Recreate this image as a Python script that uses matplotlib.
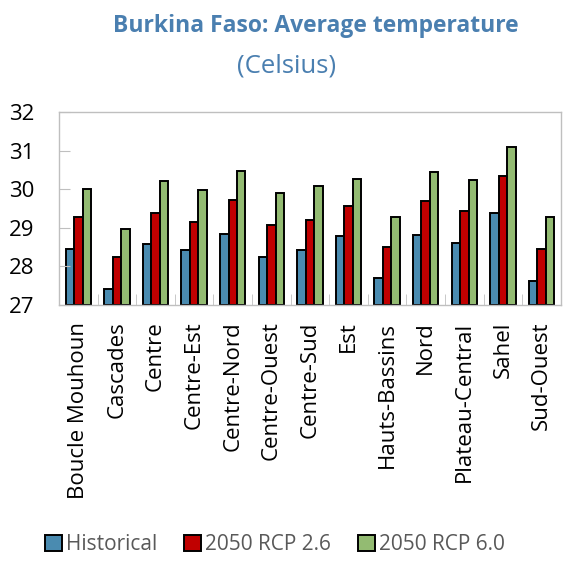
import numpy as np
import matplotlib
matplotlib.use('Agg')
import matplotlib.pyplot as plt
from matplotlib.patches import Patch

plt.rcParams['font.family'] = ['Open Sans', 'DejaVu Sans']

regions = ['Boucle Mouhoun', 'Cascades', 'Centre', 'Centre-Est', 'Centre-Nord',
           'Centre-Ouest', 'Centre-Sud', 'Est', 'Hauts-Bassins', 'Nord',
           'Plateau-Central', 'Sahel', 'Sud-Ouest']
historical = [28.44, 27.41, 28.57, 28.42, 28.84, 28.24, 28.41, 28.79, 27.70, 28.81, 28.61, 29.37, 27.62]
rcp26 = [29.28, 28.23, 29.39, 29.16, 29.73, 29.06, 29.21, 29.56, 28.49, 29.70, 29.44, 30.35, 28.46]
rcp60 = [30.01, 28.97, 30.20, 29.98, 30.47, 29.89, 30.07, 30.26, 29.29, 30.44, 30.24, 31.08, 29.29]
series = ['Historical', '2050 RCP 2.6', '2050 RCP 6.0']
colors = ['#4a8bb0', '#c00000', '#93bb72']

fig = plt.figure(figsize=(5.63, 5.71), dpi=100)
ax = fig.add_axes([0.105, 0.466, 0.891, 0.338])

x = np.arange(len(regions))
w = 0.22
for i, (vals, c) in enumerate(zip([historical, rcp26, rcp60], colors)):
    ax.bar(x + (i - 1) * w, np.array(vals) - 27, width=w, bottom=27,
           color=c, edgecolor='black', linewidth=1.4)

ax.set_xlim(-0.5, len(regions) - 0.5)
ax.set_ylim(27, 32)
ax.set_yticks([27, 28, 29, 30, 31, 32])
ax.set_xticks(x)
ax.set_xticklabels(regions, rotation=90, fontsize=16)
ax.set_xticks(np.arange(len(regions) + 1) - 0.5, minor=True)
ax.tick_params(axis='x', which='major', length=0, pad=12)
ax.tick_params(axis='x', which='minor', direction='in', length=8, color='#bfbfbf')
ax.tick_params(axis='y', direction='in', length=8, color='#bfbfbf', labelsize=16, pad=18)
for s in ax.spines.values():
    s.set_color('#bfbfbf')
    s.set_linewidth(1.0)

fig.text(316 / 563, 1 - 26 / 571, 'Burkina Faso: Average temperature', ha='center', va='center',
         fontsize=16.5, fontweight='bold', color='#4a7fb0')
fig.text(287 / 563, 1 - 66 / 571, '(Celsius)', ha='center', va='center', fontsize=18.5,
         color='#4a7fb0')

handles = [Patch(facecolor=c, edgecolor='black', linewidth=1.4) for c in colors]
leg = fig.legend(handles, series, loc='center', bbox_to_anchor=(275 / 563, 1 - 545 / 571), ncol=3,
                 frameon=False, fontsize=15, handlelength=0.8, handleheight=0.8,
                 handletextpad=0.2, columnspacing=1.3)
for t in leg.get_texts():
    t.set_color('#595959')

fig.savefig('out.png', dpi=100)
